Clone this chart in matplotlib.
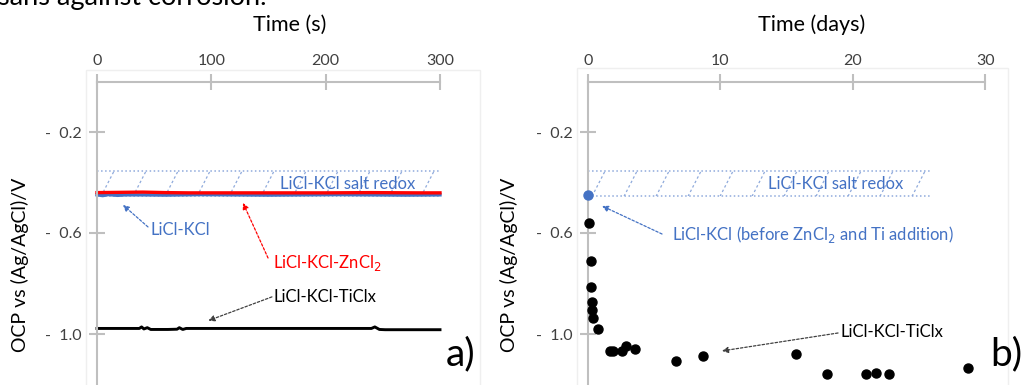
import matplotlib.pyplot as plt
from matplotlib.patches import Rectangle
from matplotlib.ticker import FixedLocator, FuncFormatter

plt.rcParams['font.family'] = ['Lato', 'DejaVu Sans']

W, H = 1023, 385  # canvas size in px

# --- a) OCP over the first 300 s ---
licl_kcl_t = [0, 5, 10, 18, 25, 40, 60, 90, 120, 150, 180, 210, 240, 270, 300]
licl_kcl_v = [-0.449, -0.452, -0.448, -0.451, -0.449, -0.449, -0.450, -0.448,
              -0.449, -0.450, -0.449, -0.448, -0.449, -0.450, -0.449]

zncl2_t = [0, 20, 40, 60, 80, 120, 160, 200, 240, 280, 300]
zncl2_v = [-0.440, -0.439, -0.438, -0.440, -0.441, -0.441, -0.441, -0.441,
           -0.440, -0.441, -0.441]

ticlx_t = [0, 37, 39, 41, 44, 47, 52, 62, 70, 72, 75, 78, 240, 243, 247, 252, 300]
ticlx_v = [-0.978, -0.978, -0.972, -0.980, -0.975, -0.982, -0.982, -0.982,
           -0.981, -0.975, -0.982, -0.978, -0.978, -0.972, -0.982, -0.983, -0.983]

# --- b) OCP over 30 days ---
base_day = [0.02]
base_v = [-0.450]

ticlx_day = [0.10, 0.23, 0.23, 0.30, 0.32, 0.40, 0.76, 1.64, 1.89, 2.57, 2.85,
             3.57, 6.62, 8.66, 15.73, 18.05, 21.01, 21.75, 22.75, 28.72]
ticlx_ocp = [-0.562, -0.711, -0.814, -0.874, -0.905, -0.935, -0.981, -1.069,
             -1.069, -1.067, -1.048, -1.061, -1.107, -1.087, -1.078, -1.157,
             -1.160, -1.154, -1.157, -1.136]

# LiCl-KCl salt redox window (V)
redox_lo, redox_hi = -0.455, -0.355
redox_label = 'LiCl-KCl salt redox'

y_ticks = [-0.2, -0.6, -1.0]

BLUE = '#4472C4'
HATCH = '#8FAADC'
AXIS = '#BFBFBF'
TXT = '#404040'


def px(x, y):
    return x / W, 1 - y / H


def style_axes(ax, xlim, xticks):
    ax.set_xlim(*xlim)
    ax.set_ylim(-1.2, 0)
    for s in ('right', 'bottom'):
        ax.spines[s].set_visible(False)
    for s in ('left', 'top'):
        ax.spines[s].set_color(AXIS)
        ax.spines[s].set_linewidth(1.5)
    ax.xaxis.tick_top()
    ax.xaxis.set_major_locator(FixedLocator(xticks))
    ax.yaxis.set_major_locator(FixedLocator(y_ticks))
    ax.yaxis.set_major_formatter(FuncFormatter(lambda v, _: f'-  {abs(v):.1f}'))
    ax.tick_params(direction='inout', length=12, width=1.5, color=AXIS,
                   labelcolor=TXT, labelsize=11.5)
    ax.tick_params(axis='x', pad=4)
    ax.tick_params(axis='y', pad=5)
    ax.patch.set_alpha(0)


def redox_band(ax, x1, label_x):
    x0 = 0
    band = Rectangle((x0, redox_lo), x1 - x0, redox_hi - redox_lo,
                     fill=False, edgecolor='none')
    ax.add_patch(band)
    ax.hlines([redox_lo, redox_hi], x0, x1, colors=HATCH, linestyles=':', lw=1.1)
    # slanted dotted hatching, spaced evenly on screen
    xr = ax.get_xlim()
    per_px = (xr[1] - xr[0]) / (ax.get_position().width * W)
    step, slant = 32 * per_px, 13 * per_px
    xb = x0 + 4 * per_px
    while xb < x1:
        ln, = ax.plot([xb, xb + slant], [redox_lo, redox_hi], color=HATCH,
                      lw=0.9, ls=(0, (2, 2)))
        ln.set_clip_path(band)
        xb += step
    ax.text(label_x, (redox_lo + redox_hi) / 2, redox_label, color=BLUE,
            fontsize=12, ha='center', va='center')


def arrow(ax, head, tail, color):
    ax.annotate('', xy=head, xytext=tail,
                arrowprops=dict(arrowstyle='-|>', color=color, lw=0.9,
                                linestyle=(0, (2, 1.5)), mutation_scale=9,
                                shrinkA=0, shrinkB=0))


fig = plt.figure(figsize=(W / 100, H / 100), dpi=100)

# faint chart-area frames
for x0, x1, y0 in ((86, 480, 70), (577, 1008, 68)):
    fx0, fy0 = px(x0, y0)
    fig.add_artist(Rectangle((fx0, -0.01), (x1 - x0) / W, fy0 + 0.01,
                             transform=fig.transFigure, fill=False,
                             edgecolor='#EFEFEF', lw=1))

# ---------------- a) ----------------
ax1 = fig.add_axes([97 / W, 0.5 / H, 343 / W, 303 / H])
style_axes(ax1, (0, 300), [0, 100, 200, 300])
redox_band(ax1, 300, 219)
ax1.plot(licl_kcl_t, licl_kcl_v, color=BLUE, lw=2.4, clip_on=False)
ax1.plot(zncl2_t, zncl2_v, color='#FF0000', lw=2.4, clip_on=False)
ax1.plot(ticlx_t, ticlx_v, color='black', lw=2.1, clip_on=False)

arrow(ax1, (22.7, -0.489), (44.6, -0.576), BLUE)
ax1.text(46.4, -0.588, 'LiCl-KCl', color=BLUE, fontsize=12, va='center')
arrow(ax1, (127.7, -0.481), (149.6, -0.699), '#FF0000')
ax1.text(153.9, -0.719, 'LiCl-KCl-ZnCl$_2$', color='#FF0000', fontsize=12,
         va='center')
arrow(ax1, (97.4, -0.947), (153.0, -0.853), '#404040')
ax1.text(154.0, -0.853, 'LiCl-KCl-TiClx', color='black', fontsize=12,
         va='center')

# ---------------- b) ----------------
ax2 = fig.add_axes([588 / W, 0.5 / H, 397.3 / W, 303 / H])
style_axes(ax2, (0, 30), [0, 10, 20, 30])
redox_band(ax2, 26, 18.7)
ax2.plot(base_day, base_v, 'o', color=BLUE, ms=6.5, clip_on=False, zorder=5)
ax2.plot(ticlx_day, ticlx_ocp, 'o', color='black', ms=6.5, clip_on=False,
         zorder=5)

arrow(ax2, (1.06, -0.493), (5.59, -0.604), BLUE)
ax2.text(6.34, -0.604, 'LiCl-KCl (before ZnCl$_2$ and Ti addition)',
         color=BLUE, fontsize=12, va='center')
arrow(ax2, (10.12, -1.067), (18.88, -0.996), '#404040')
ax2.text(19.1, -0.994, 'LiCl-KCl-TiClx', color='black', fontsize=12,
         va='center')

# axis titles and panel tags
fig.text(*px(290, 25), 'Time (s)', fontsize=15.5, ha='center', va='center')
fig.text(*px(812, 25), 'Time (days)', fontsize=15.5, ha='center', va='center')
fig.text(*px(20, 265), 'OCP vs (Ag/AgCl)/V', fontsize=14, rotation=90,
         ha='center', va='center')
fig.text(*px(509, 265), 'OCP vs (Ag/AgCl)/V', fontsize=14, rotation=90,
         ha='center', va='center')
fig.text(*px(461, 354), 'a)', fontsize=28, ha='center', va='center')
fig.text(*px(1006, 354), 'b)', fontsize=28, ha='center', va='center')

# tail of the preceding paragraph, cut by the top edge
fig.text(*px(-2, 5), 'sans against corrosion.', fontsize=19.5,
         ha='left', va='baseline')

fig.savefig('out.png', dpi=100)
